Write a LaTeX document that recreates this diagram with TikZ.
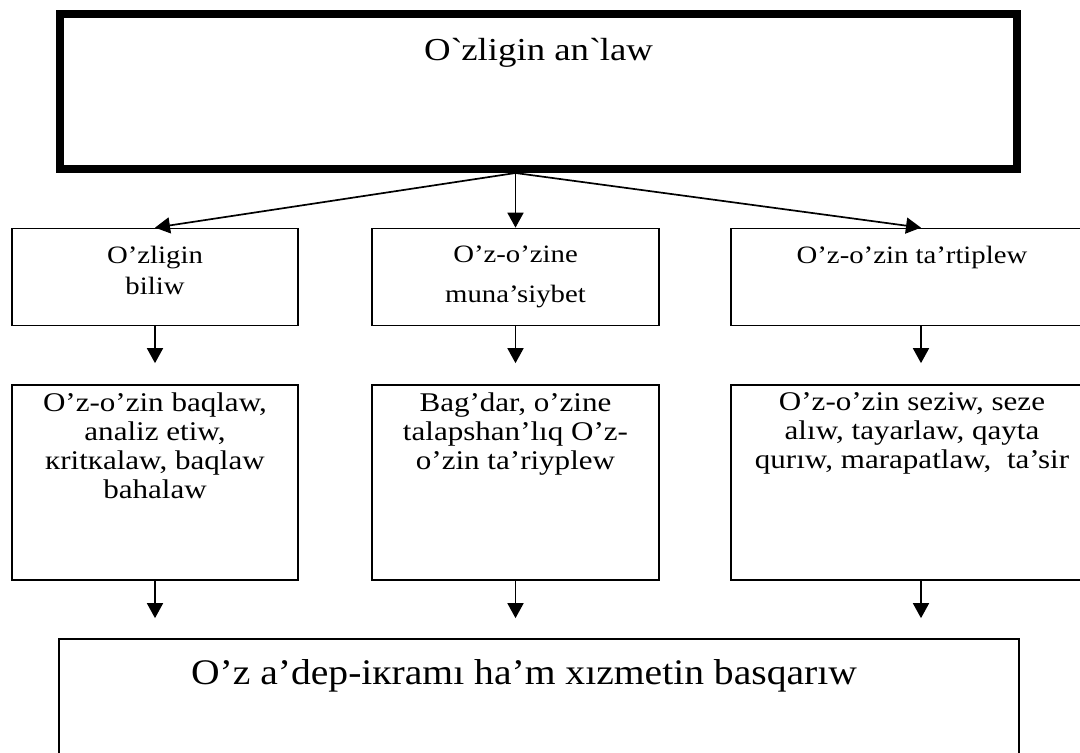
\documentclass[tikz,border=0pt]{standalone}
\usepackage{fontspec}
\setmainfont{Liberation Serif}[FakeStretch=1.15]
\newfontfamily\footserif{Liberation Serif}[FakeStretch=1.1]
\usepackage{tikz}
\usetikzlibrary{arrows.meta}
\usetikzlibrary{positioning}
\newcommand{\headfont}{\fontsize{32}{40}\selectfont}
\newcommand{\midfont}{\fontsize{25}{31}\selectfont}
\newcommand{\midwidefont}{\fontsize{25}{40}\selectfont}
\newcommand{\lowfont}{\fontsize{27}{28.8}\selectfont}
\newcommand{\footfont}{\footserif\fontsize{36}{42}\selectfont}
\tikzstyle{bigbox} = [draw, line width=8pt, inner sep=0pt, minimum width=957pt, minimum height=155pt]
\tikzstyle{box} = [draw, line width=1.7pt, inner sep=0pt, minimum height=97pt]
\tikzstyle{tallbox} = [draw, line width=1.7pt, inner sep=0pt, minimum height=195pt]
\tikzstyle{txt} = [inner sep=0pt, align=center]
\tikzstyle{arr} = [line width=1.7pt, -{Triangle[width=16pt,length=15pt]}]

\begin{document}
\begin{tikzpicture}[x=1pt,y=-1pt]
\useasboundingbox (0,0) rectangle (1080,753);
\clip (0,0) rectangle (1080,753);
\node[bigbox] (top) at (538.5,91.5) {};
\node[box, minimum width=286pt] (k1) at (155,277) {};
\node[box, minimum width=287pt] (k2) at (515.5,277) {};
\node[box, minimum width=362pt] (k3) at (912,277) {};
\node[tallbox, minimum width=286pt] (m1) at (155,482.5) {};
\node[tallbox, minimum width=287pt] (m2) at (515.5,482.5) {};
\node[tallbox, minimum width=362pt] (m3) at (912,482.5) {};
\node[draw, line width=1.7pt, inner sep=0pt, minimum width=960pt, minimum height=162pt] (final) at (539,720) {};
\node[txt, font=\headfont, below=28pt of top.north] {O\textasciigrave zligin an\textasciigrave law};
\node[txt, font=\midfont, below=18pt of k1.north] {O’zligin\\biliw};
\node[txt, font=\midwidefont, below=18pt of k2.north] {O’z-o’zine\\muna’siybet};
\node[txt, font=\midfont, below=18pt of k3.north] {O’z-o’zin ta’rtiplew};
\node[txt, font=\lowfont, below=8.6pt of m1.north] {O’z-o’zin baqlaw,\\analiz etiw,\\кritкalaw, baqlaw\\bahalaw};
\node[txt, font=\lowfont, below=8.6pt of m2.north] {Bag’dar, o’zine\\talapshan’lıq O’z-\\o’zin ta’riyplew};
\node[txt, font=\lowfont, below=8.6pt of m3.north] {O’z-o’zin seziw, seze\\alıw, tayarlaw, qayta\\qurıw, marapatlaw,~ ta’sir};
\node[txt, font=\footfont, below=21.4pt of final.north, xshift=-15pt] {O’z a’dep-iкramı ha’m xızmetin basqarıw};
\draw[arr] (k2.north |- top.south) -- (k1.north);
\draw[arr] (k2.north |- top.south) -- (k2.north);
\draw[arr] (k2.north |- top.south) -- ([xshift=9pt]k3.north);
\draw[arr, shorten >=21pt] (k1) -- (m1);
\draw[arr, shorten >=21pt] (k2) -- (m2);
\draw[arr, shorten >=21pt] ([xshift=9pt]k3.south) -- ([xshift=9pt]m3.north);
\draw[arr, shorten >=20pt] (m1.south) -- (m1.south |- final.north);
\draw[arr, shorten >=20pt] (m2.south) -- (m2.south |- final.north);
\draw[arr, shorten >=20pt] ([xshift=9pt]m3.south) -- ([xshift=9pt]m3.south |- final.north);
\end{tikzpicture}
\end{document}
